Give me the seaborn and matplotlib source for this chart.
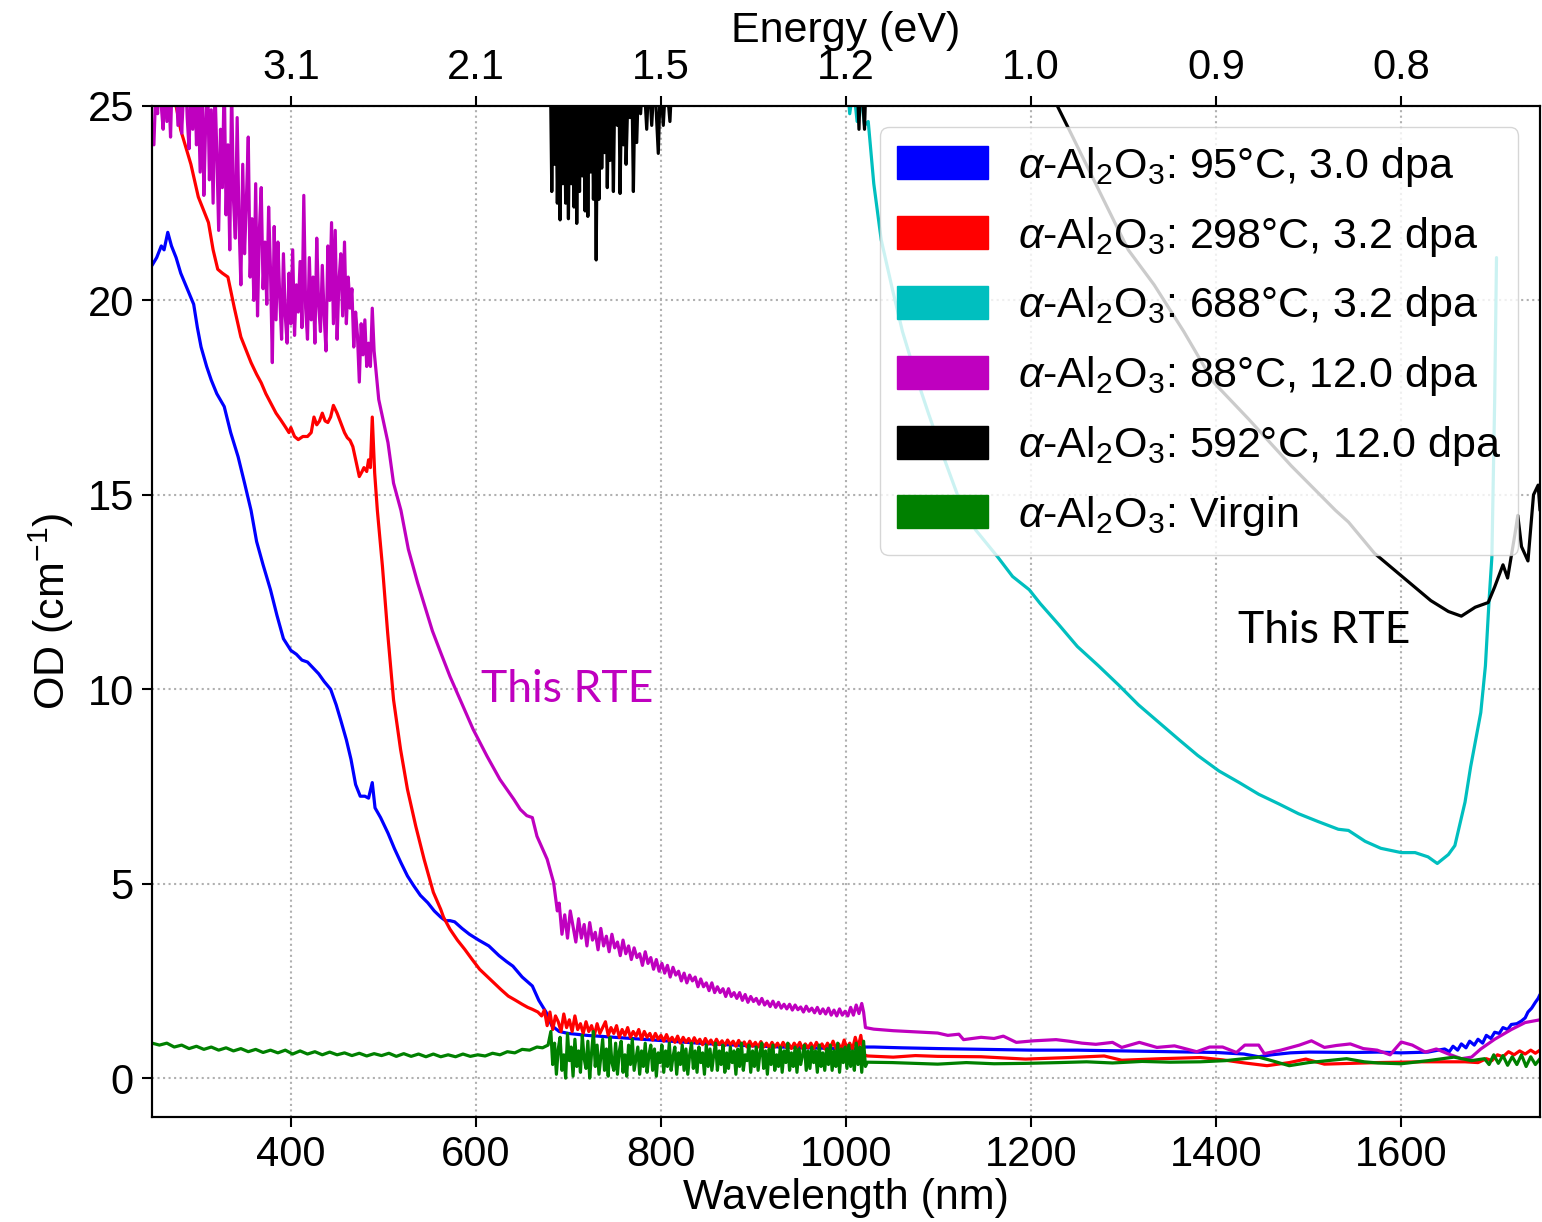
import numpy as np
import pandas as pd
import seaborn as sns
import matplotlib.pyplot as plt
from matplotlib.patches import Patch

# Sample names (legend order) and colours
labels = [r'$\alpha$-Al$_2$O$_3$: 95°C, 3.0 dpa',
          r'$\alpha$-Al$_2$O$_3$: 298°C, 3.2 dpa',
          r'$\alpha$-Al$_2$O$_3$: 688°C, 3.2 dpa',
          r'$\alpha$-Al$_2$O$_3$: 88°C, 12.0 dpa',
          r'$\alpha$-Al$_2$O$_3$: 592°C, 12.0 dpa',
          r'$\alpha$-Al$_2$O$_3$: Virgin']
colors = ['#0000ff', '#ff0000', '#00bfbf', '#bf00bf', '#000000', '#008000']

x_ticks = [400, 600, 800, 1000, 1200, 1400, 1600]
energy_labels = ['3.1', '2.1', '1.5', '1.2', '1.0', '0.9', '0.8']

# (wavelength nm, OD)
blue = [(250, 20.9), (255, 21.1), (260, 21.4), (263, 21.3), (267, 21.75), (271, 21.4), (276, 21.1),
        (281, 20.7), (288, 20.3), (295, 19.9), (299, 19.3), (303, 18.8), (309, 18.3), (314, 17.95),
        (320, 17.6), (328, 17.27), (335, 16.6), (343, 15.98), (350, 15.3), (357, 14.6), (363, 13.8),
        (370, 13.2), (378, 12.56), (385, 11.9), (392, 11.3), (400, 11.0), (406, 10.9), (412, 10.75),
        (418, 10.7), (424, 10.55), (430, 10.4), (436, 10.2), (443, 10.0), (449, 9.6), (454, 9.2),
        (460, 8.7), (465, 8.2), (470, 7.55), (475, 7.25), (480, 7.25), (484, 7.2), (488, 7.6),
        (491, 6.95), (497, 6.7), (505, 6.3), (512, 5.9), (519, 5.54), (526, 5.2), (533, 4.94),
        (540, 4.7), (548, 4.51), (555, 4.3), (562, 4.14), (567, 4.05), (572, 4.05), (577, 4.02),
        (585, 3.85), (593, 3.7), (603, 3.55), (614, 3.4), (625, 3.15), (633, 3.0), (640, 2.88),
        (650, 2.6), (661, 2.37), (668, 2.0), (676, 1.69), (682, 1.35), (690, 1.2), (700, 1.15),
        (720, 1.1), (750, 1.05), (780, 1.0), (810, 0.95), (840, 0.9), (870, 0.86), (900, 0.83),
        (930, 0.8), (960, 0.78), (990, 0.76), (1015, 0.75), (1020, 0.8), (1030, 0.8), (1060, 0.78),
        (1100, 0.76), (1150, 0.74), (1200, 0.72), (1250, 0.72), (1300, 0.7), (1350, 0.68),
        (1400, 0.66), (1430, 0.62), (1446, 0.55), (1460, 0.6), (1480, 0.65), (1500, 0.67),
        (1550, 0.66), (1575, 0.67), (1600, 0.65), (1629, 0.67), (1640, 0.72), (1647, 0.75),
        (1652, 0.68), (1656, 0.82), (1661, 0.72), (1665, 0.88), (1670, 0.78), (1674, 0.95),
        (1679, 0.85), (1683, 1.0), (1688, 0.9), (1692, 1.1), (1697, 1.02), (1701, 1.18),
        (1706, 1.15), (1710, 1.3), (1715, 1.25), (1719, 1.38), (1725, 1.4), (1730, 1.47),
        (1734, 1.55), (1737, 1.7), (1741, 1.8), (1745, 1.95), (1748, 2.05), (1750, 2.15)]

red = [(250, 26.5), (270, 25.6), (276, 25.0), (281, 24.38), (287, 23.9), (292, 23.5), (300, 22.66),
       (306, 22.3), (311, 22.0), (316, 21.3), (321, 20.8), (326, 20.7), (332, 20.6), (339, 19.8),
       (346, 19.06), (352, 18.7), (357, 18.4), (363, 18.1), (368, 17.88), (373, 17.6), (378, 17.37),
       (384, 17.1), (389, 16.93), (394, 16.75), (398, 16.6), (400, 16.73), (404, 16.5), (408, 16.42),
       (413, 16.5), (418, 16.5), (422, 16.6), (425, 17.0), (428, 16.8), (431, 16.9), (434, 17.1),
       (437, 16.9), (440, 16.86), (443, 17.0), (446, 17.3), (450, 17.1), (454, 16.85), (458, 16.6),
       (461, 16.47), (464, 16.4), (467, 16.24), (471, 15.8), (474, 15.47), (477, 15.6), (479, 15.7),
       (482, 15.6), (484, 15.9), (486, 15.7), (488, 17.0), (490.6, 15.56), (493.5, 14.6),
       (499, 13.16), (504.6, 11.46), (511, 9.73), (518.6, 8.45), (526, 7.43), (535, 6.48),
       (544, 5.63), (551, 5.03), (554, 4.78), (562, 4.34), (565, 4.14), (572, 3.83), (580, 3.55),
       (588, 3.31), (596, 3.05), (604, 2.8), (612, 2.62), (619, 2.46), (627, 2.28), (635, 2.11),
       (643, 2.0), (650, 1.9), (656, 1.82), (661, 1.77), (667, 1.7), (671, 1.6),
       (674, 1.75), (677, 1.35), (680, 1.7), (683, 1.25), (686, 1.6), (689, 1.45), (692, 1.2),
       (695, 1.65), (698, 1.3), (701, 1.5), (704, 1.2), (707, 1.6), (710, 1.25), (713, 1.4),
       (716, 1.15), (719, 1.45), (722, 1.2), (725, 1.35), (728, 1.1), (731, 1.4), (734, 1.15),
       (737, 1.3), (740, 1.45), (743, 1.1), (746, 1.3), (749, 1.15), (752, 1.35), (755, 1.05),
       (758, 1.25), (761, 1.1), (764, 1.3), (767, 1.05), (770, 1.2), (773, 1.08), (776, 1.25),
       (779, 1.0), (782, 1.2), (785, 1.05), (788, 1.15), (791, 0.98), (794, 1.15), (797, 1.0),
       (800, 1.1), (803, 0.95), (806, 1.12), (809, 0.95), (812, 1.05), (815, 0.92), (818, 1.08),
       (821, 0.9), (824, 1.05), (827, 0.92), (830, 1.02), (833, 0.88), (836, 1.04), (839, 0.9),
       (842, 1.0), (845, 0.86), (848, 1.02), (851, 0.88), (854, 0.98), (857, 0.85), (860, 1.0),
       (863, 0.86), (866, 0.96), (869, 0.84), (872, 0.98), (875, 0.86), (878, 0.95), (881, 0.82),
       (884, 0.97), (887, 0.84), (890, 0.93), (893, 0.8), (896, 0.95), (899, 0.82), (902, 0.92),
       (905, 0.8), (908, 0.94), (911, 0.8), (914, 0.9), (917, 0.78), (920, 0.92), (923, 0.8),
       (926, 0.9), (929, 0.77), (932, 0.92), (935, 0.8), (938, 0.88), (941, 0.76), (944, 0.9),
       (947, 0.79), (950, 0.92), (953, 0.76), (956, 0.88), (959, 0.78), (962, 0.9), (965, 0.76),
       (968, 0.92), (971, 0.78), (974, 0.88), (977, 0.75), (980, 0.9), (983, 0.77), (986, 0.95),
       (989, 0.76), (992, 0.88), (995, 0.74), (998, 0.98), (1001, 0.76), (1004, 0.9), (1007, 0.74),
       (1010, 1.05), (1013, 0.78), (1016, 1.1), (1018, 0.75), (1020, 0.6),
       (1023, 0.57), (1051, 0.54), (1075, 0.58), (1099, 0.56), (1146, 0.55), (1194, 0.49),
       (1241, 0.53), (1279, 0.57), (1298, 0.46), (1340, 0.5), (1383, 0.53), (1407, 0.47),
       (1431, 0.39), (1455, 0.32), (1479, 0.4), (1497, 0.49), (1517, 0.36), (1574, 0.4),
       (1622, 0.42), (1669, 0.42), (1683, 0.4), (1692, 0.5), (1698, 0.45), (1704, 0.6),
       (1710, 0.55), (1716, 0.68), (1722, 0.6), (1728, 0.7), (1734, 0.62), (1740, 0.72),
       (1745, 0.64), (1750, 0.72)]

cyan = [(1000, 26.0), (1004, 24.8), (1008, 25.5), (1012, 24.6), (1016, 25.3), (1020, 24.5),
        (1024, 24.6), (1030, 23.0), (1038, 21.56), (1050, 20.3), (1061, 19.2), (1075, 18.1),
        (1089, 17.1), (1105, 16.0), (1122, 14.9), (1140, 14.1), (1164, 13.4), (1180, 12.9),
        (1198, 12.56), (1210, 12.2), (1230, 11.66), (1250, 11.1), (1273, 10.6), (1295, 10.1),
        (1316, 9.6), (1338, 9.15), (1360, 8.7), (1380, 8.3), (1403, 7.9), (1425, 7.6), (1446, 7.3),
        (1468, 7.05), (1489, 6.8), (1510, 6.6), (1532, 6.4), (1543, 6.37), (1561, 6.09),
        (1578, 5.91), (1600, 5.8), (1615, 5.8), (1629, 5.69), (1639, 5.52), (1651, 5.75),
        (1658, 5.98), (1669, 7.1), (1675, 8.0), (1686, 9.4), (1691, 10.6), (1695, 12.3),
        (1698, 13.4), (1701, 17.4), (1703, 21.1)]

magenta = [(252, 24.0), (254, 25.4), (256, 24.8), (258, 26.0), (260, 25.0), (262, 24.4), (264, 25.8),
           (266, 24.6), (268, 25.5), (270, 24.2), (272, 26.0), (274, 25.1), (276, 25.7), (278, 24.5),
           (280, 25.9), (282, 24.3), (284, 25.3), (286, 26.0), (288, 24.7), (290, 23.9), (292, 25.6),
           (294, 24.4), (296, 25.9), (298, 24.0), (300, 25.2), (302, 23.3), (304, 25.7), (306, 22.7),
           (308, 24.6), (310, 25.8), (312, 23.1), (314, 24.9), (316, 22.5), (318, 25.5), (320, 23.8),
           (322, 21.8), (324, 24.4), (326, 22.9), (328, 25.8), (330, 22.2), (332, 24.0), (334, 21.3),
           (336, 25.5), (338, 22.6), (340, 21.6), (342, 24.7), (344, 22.0), (346, 20.4), (348, 23.5),
           (350, 21.2), (352, 22.6), (354, 24.2), (356, 20.6), (358, 22.1), (360, 20.0), (362, 23.0),
           (364, 19.6), (366, 21.8), (368, 22.9), (370, 20.3), (372, 21.5), (374, 19.9), (376, 22.4),
           (378, 20.8), (380, 18.4), (382, 21.9), (384, 19.5), (386, 21.5), (388, 20.1), (390, 19.0),
           (392, 21.2), (394, 19.6), (396, 18.9), (398, 20.7), (400, 19.4), (402, 21.3), (404, 19.1),
           (406, 20.4), (408, 19.7), (410, 21.0), (412, 19.3), (414, 22.7), (416, 19.8), (418, 19.0),
           (420, 21.1), (422, 19.5), (424, 20.6), (426, 18.9), (428, 21.6), (430, 19.9), (432, 19.2),
           (434, 20.9), (436, 19.6), (438, 18.7), (440, 21.4), (442, 20.0), (444, 22.0), (446, 19.4),
           (448, 21.8), (450, 19.0), (452, 20.5), (454, 21.2), (456, 19.6), (458, 21.5), (460, 19.4),
           (462, 20.6), (464, 19.8), (466, 20.3), (468, 18.8), (470, 19.7), (472, 19.1), (474, 17.9),
           (476, 19.4), (478, 18.6), (480, 19.5), (482, 18.3), (484, 18.9), (486, 18.3), (488, 19.8),
           (490, 18.7), (492, 18.2),
           (495, 17.45), (500, 16.9), (505, 16.34), (511, 15.3), (519, 14.6), (527, 13.6),
           (537, 12.74), (544, 12.2), (553, 11.5), (562, 10.94), (572, 10.33), (583, 9.73),
           (597, 8.97), (612, 8.28), (626, 7.68), (641, 7.17), (648, 6.91), (655, 6.75), (661, 6.7),
           (666, 6.22), (672, 5.9), (677, 5.63), (684, 5.03), (688, 4.3),
           (690, 4.5), (693, 3.7), (696, 4.2), (699, 3.6), (702, 4.3), (705, 3.9), (708, 3.5),
           (711, 4.1), (714, 3.6), (717, 3.95), (720, 3.4), (723, 4.0), (726, 3.55), (729, 3.75),
           (732, 3.3), (735, 3.85), (738, 3.4), (741, 3.65), (744, 3.25), (747, 3.7), (750, 3.35),
           (753, 3.5), (756, 3.15), (759, 3.55), (762, 3.2), (765, 3.4), (768, 3.05), (771, 3.35),
           (774, 3.1), (777, 3.2), (780, 2.9), (783, 3.25), (786, 2.95), (789, 3.1), (792, 2.8),
           (795, 3.05), (798, 2.75), (801, 2.95), (804, 2.7), (807, 2.9), (810, 2.6), (813, 2.85),
           (816, 2.65), (819, 2.75), (822, 2.5), (825, 2.7), (828, 2.45), (831, 2.65), (834, 2.5),
           (837, 2.6), (840, 2.35), (843, 2.55), (846, 2.35), (849, 2.45), (852, 2.25), (855, 2.45),
           (858, 2.2), (861, 2.35), (864, 2.2), (867, 2.3), (870, 2.1), (873, 2.3), (876, 2.1),
           (879, 2.2), (882, 2.05), (885, 2.2), (888, 2.0), (891, 2.15), (894, 1.95), (897, 2.1),
           (900, 1.97), (903, 2.05), (906, 1.9), (909, 2.05), (912, 1.88), (915, 1.98), (918, 1.84),
           (921, 1.98), (924, 1.82), (927, 1.95), (930, 1.8), (933, 1.9), (936, 1.78), (939, 1.9),
           (942, 1.75), (945, 1.88), (948, 1.76), (951, 1.83), (954, 1.7), (957, 1.85), (960, 1.72),
           (963, 1.8), (966, 1.68), (969, 1.82), (972, 1.66), (975, 1.78), (978, 1.65), (981, 1.8),
           (984, 1.62), (987, 1.75), (990, 1.6), (993, 1.78), (996, 1.62), (999, 1.72), (1002, 1.6),
           (1005, 1.82), (1008, 1.62), (1011, 1.88), (1014, 1.66), (1017, 1.92), (1019, 1.7),
           (1021, 1.3),
           (1030, 1.26), (1051, 1.22), (1075, 1.19), (1099, 1.16), (1110, 1.1), (1122, 1.13),
           (1127, 0.99), (1146, 1.05), (1160, 1.02), (1170, 1.08), (1184, 0.92), (1203, 0.96),
           (1227, 0.99), (1241, 0.95), (1255, 0.9), (1270, 0.87), (1288, 0.92), (1298, 0.79),
           (1317, 0.92), (1336, 0.79), (1355, 0.83), (1379, 0.68), (1393, 0.8), (1407, 0.8),
           (1422, 0.66), (1431, 0.85), (1446, 0.85), (1452, 0.63), (1470, 0.72), (1490, 0.85),
           (1503, 0.96), (1517, 0.79), (1530, 0.84), (1545, 0.88), (1559, 0.76), (1574, 0.72),
           (1588, 0.6), (1600, 0.93), (1612, 0.85), (1626, 0.67), (1638, 0.75), (1650, 0.63),
           (1665, 0.5), (1676, 0.54), (1686, 0.75), (1701, 1.0), (1719, 1.25), (1734, 1.43),
           (1750, 1.5)]

black = [(250, 27.0), (680, 27.0), (682, 22.8), (683.5, 25.5), (685, 23.5), (686.5, 26.0), (688, 22.5),
         (689.5, 25.2), (691, 22.07), (692.5, 25.5), (694, 23.0), (695.5, 26.0), (697, 22.5),
         (698.5, 25.0), (700, 22.1), (701.5, 25.6), (703, 23.0), (704.5, 25.2), (706, 22.4),
         (707.5, 26.0), (709, 21.98), (710.5, 25.0), (712, 22.8), (713.5, 25.8), (715, 23.2),
         (716.5, 25.0), (718, 22.3), (719.5, 25.6), (721, 22.16), (722.5, 25.3), (724, 23.3),
         (725.5, 26.0), (727, 22.6), (728.5, 25.2), (730, 21.04), (731.5, 25.5), (733, 22.6),
         (734.5, 25.8), (736, 23.4), (737.5, 25.1), (739, 23.8), (740.5, 26.0), (742, 22.9),
         (743.5, 25.4), (745, 23.6), (746.5, 25.9), (748.6, 22.8), (750, 25.3), (752.9, 24.5),
         (754.5, 25.8), (755.8, 22.75), (757.5, 25.4), (759.4, 24.0), (761, 25.9), (762.3, 23.5),
         (764.5, 25.5), (766.6, 24.7), (768.5, 25.8), (770.2, 22.8), (772, 25.6), (773.8, 24.06),
         (776, 25.9), (778, 24.8), (781, 26.0), (784.6, 24.4), (787, 25.8), (790, 24.5), (793, 25.8),
         (797.1, 23.78), (799.5, 25.7), (802.5, 24.5), (805.5, 25.8), (809.7, 24.6), (812, 25.8),
         (815, 27.0), (1010, 27.0), (1014, 24.4), (1016, 26.0), (1020, 24.4), (1022, 26.0),
         (1200, 26.5), (1229, 24.97), (1243, 24.3), (1276, 22.7), (1305, 21.3), (1333, 20.4),
         (1365, 19.2), (1397, 17.9), (1435, 16.95), (1481, 15.75), (1529, 14.6), (1543, 14.3),
         (1571, 13.5), (1600, 12.92), (1632, 12.28), (1651, 12.0), (1665, 11.88), (1680, 12.11),
         (1694, 12.23), (1701, 12.63), (1710, 13.2), (1715, 12.86), (1723, 14.0), (1726, 14.47),
         (1730, 13.67), (1737, 13.3), (1743, 15.0), (1748, 15.25), (1750, 14.6)]

green = [(250, 0.9), (258, 0.85), (266, 0.9), (274, 0.8), (282, 0.85), (290, 0.76), (298, 0.82),
         (306, 0.74), (314, 0.8), (322, 0.72), (330, 0.78), (338, 0.7), (346, 0.76), (354, 0.68),
         (362, 0.74), (370, 0.66), (378, 0.72), (386, 0.65), (394, 0.72), (402, 0.62), (410, 0.7),
         (418, 0.62), (426, 0.68), (434, 0.6), (442, 0.67), (450, 0.6), (458, 0.65), (466, 0.58),
         (474, 0.64), (482, 0.57), (490, 0.63), (498, 0.58), (506, 0.64), (514, 0.56), (522, 0.63),
         (530, 0.56), (538, 0.62), (546, 0.55), (554, 0.62), (562, 0.55), (570, 0.6), (578, 0.55),
         (586, 0.62), (594, 0.56), (602, 0.6), (610, 0.57), (618, 0.64), (626, 0.6), (634, 0.68),
         (642, 0.65), (650, 0.74), (658, 0.72), (666, 0.8), (672, 0.78), (678, 0.85),
         (681, 1.2), (683, 0.35), (685, 0.9), (687, 0.1), (689, 0.75), (691, 1.05), (693, 0.2),
         (695, 0.6), (697, 0.0), (699, 1.15), (701, 0.45), (703, 0.8), (705, 0.05), (707, 1.0),
         (709, 0.3), (711, 0.7), (713, 0.15), (715, 1.1), (717, 0.5), (719, 0.25), (721, 0.95),
         (723, 0.0), (725, 0.65), (727, 1.2), (729, 0.3), (731, 0.85), (733, 0.1), (735, 0.55),
         (737, 1.0), (739, 0.2), (741, 0.75), (743, 0.05), (745, 1.05), (747, 0.4), (749, 0.2),
         (751, 0.9), (753, 0.1), (755, 0.7), (757, 0.95), (759, 0.15), (761, 0.6), (763, 0.05),
         (765, 0.85), (767, 0.35), (769, 1.0), (771, 0.2), (773, 0.5), (775, 0.8), (777, 0.1),
         (779, 0.7), (781, 0.3), (783, 0.9), (785, 0.15), (787, 0.6), (789, 0.85), (791, 0.2),
         (793, 0.75), (795, 0.05), (797, 0.65), (799, 0.4), (801, 0.85), (803, 0.15), (805, 0.7),
         (807, 0.3), (809, 0.9), (811, 0.2), (813, 0.55), (815, 0.8), (817, 0.1), (819, 0.65),
         (821, 0.35), (823, 0.85), (825, 0.2), (827, 0.75), (829, 0.1), (831, 0.6), (833, 0.9),
         (835, 0.25), (837, 0.7), (839, 0.15), (841, 0.8), (843, 0.4), (845, 0.65), (847, 0.1),
         (849, 0.85), (851, 0.3), (853, 0.75), (855, 0.2), (857, 0.6), (859, 0.9), (861, 0.2),
         (863, 0.7), (865, 0.35), (867, 0.85), (869, 0.15), (871, 0.65), (873, 0.25), (875, 0.8),
         (877, 0.4), (879, 0.7), (881, 0.1), (883, 0.75), (885, 0.3), (887, 0.9), (889, 0.2),
         (891, 0.6), (893, 0.45), (895, 0.85), (897, 0.15), (899, 0.7), (901, 0.3), (903, 0.8),
         (905, 0.2), (907, 0.65), (909, 0.9), (911, 0.25), (913, 0.7), (915, 0.1), (917, 0.75),
         (919, 0.35), (921, 0.85), (923, 0.2), (925, 0.6), (927, 0.3), (929, 0.8), (931, 0.15),
         (933, 0.7), (935, 0.4), (937, 0.9), (939, 0.2), (941, 0.65), (943, 0.3), (945, 0.8),
         (947, 0.15), (949, 0.75), (951, 0.35), (953, 0.6), (955, 0.85), (957, 0.2), (959, 0.7),
         (961, 0.25), (963, 0.8), (965, 0.4), (967, 0.7), (969, 0.15), (971, 0.85), (973, 0.3),
         (975, 0.65), (977, 0.2), (979, 0.75), (981, 0.35), (983, 0.85), (985, 0.2), (987, 0.7),
         (989, 0.3), (991, 0.9), (993, 0.15), (995, 0.75), (997, 0.4), (999, 0.8), (1001, 0.25),
         (1003, 0.85), (1005, 0.3), (1007, 0.7), (1009, 0.2), (1011, 0.9), (1013, 0.35),
         (1015, 0.8), (1017, 0.15), (1019, 0.95), (1021, 0.3),
         (1023, 0.41), (1050, 0.4), (1075, 0.38), (1099, 0.36), (1130, 0.4), (1160, 0.37),
         (1194, 0.38), (1230, 0.4), (1260, 0.42), (1288, 0.39), (1320, 0.43), (1350, 0.41),
         (1383, 0.42), (1410, 0.45), (1430, 0.5), (1446, 0.54), (1460, 0.45), (1479, 0.32),
         (1500, 0.4), (1520, 0.45), (1541, 0.5), (1560, 0.42), (1575, 0.39), (1600, 0.37),
         (1629, 0.45), (1657, 0.54), (1676, 0.45), (1690, 0.5), (1695, 0.35), (1700, 0.6),
         (1705, 0.38), (1710, 0.58), (1715, 0.33), (1720, 0.55), (1725, 0.35), (1730, 0.6),
         (1735, 0.3), (1740, 0.55), (1745, 0.35), (1750, 0.5)]

series = [blue, red, cyan, magenta, black, green]
frames = []
for name, pts in zip(labels, series):
    arr = np.array(pts)
    frames.append(pd.DataFrame({'wl': arr[:, 0], 'od': arr[:, 1], 'sample': name}))
df = pd.concat(frames, ignore_index=True)

sns.set_style('ticks')
plt.rcParams['font.family'] = ['Liberation Sans', 'DejaVu Sans']
plt.rcParams['text.color'] = 'black'
plt.rcParams['axes.labelcolor'] = 'black'
plt.rcParams['mathtext.fontset'] = 'custom'
plt.rcParams['mathtext.rm'] = 'Liberation Sans'
plt.rcParams['mathtext.it'] = 'Liberation Sans:italic'
plt.rcParams['mathtext.bf'] = 'Liberation Sans:bold'

fig, ax = plt.subplots(figsize=(15.42, 12.22), dpi=100)
fig.subplots_adjust(left=0.0986, right=0.9987, top=0.9133, bottom=0.0859)

sns.lineplot(data=df, x='wl', y='od', hue='sample', hue_order=labels, palette=colors,
             estimator=None, sort=False, legend=False, lw=2.3, ax=ax)

ax.set_xlim(250, 1750)
ax.set_ylim(-1, 25)
ax.set_xticks(x_ticks)
ax.set_yticks([0, 5, 10, 15, 20, 25])
ax.grid(True, ls=':', color='#b0b0b0', lw=1.5)
ax.tick_params(direction='out', length=7, width=1.5, labelsize=30, pad=6, colors='black')
ax.set_xlabel('Wavelength (nm)', fontsize=31, labelpad=2)
ax.set_ylabel('OD (cm$^{-1}$)', fontsize=31, labelpad=8)
for s in ax.spines.values():
    s.set_color('black')
    s.set_linewidth(1.5)

ax2 = ax.twiny()
ax2.set_xlim(ax.get_xlim())
ax2.set_xticks(x_ticks)
ax2.set_xticklabels(energy_labels)
ax2.tick_params(direction='out', length=7, width=1.5, labelsize=30, pad=6, colors='black')
ax2.set_xlabel('Energy (eV)', fontsize=31, labelpad=4)
for s in ax2.spines.values():
    s.set_color('black')
    s.set_linewidth(1.5)

handles = [Patch(facecolor=c, edgecolor=c, label=l) for c, l in zip(colors, labels)]
leg = ax2.legend(handles=handles, loc='upper right', fontsize=31, handlelength=2.1,
                 handleheight=0.8, labelspacing=0.6, handletextpad=0.7,
                 framealpha=0.8, fancybox=True, borderpad=0.4)

ax.text(605, 10.0, 'This RTE', color='#bf00bf', fontsize=32, family='Lato', va='center')
ax.text(1424, 11.5, 'This RTE', color='black', fontsize=32, family='Lato', va='center')

fig.savefig('out.png', dpi=100)
